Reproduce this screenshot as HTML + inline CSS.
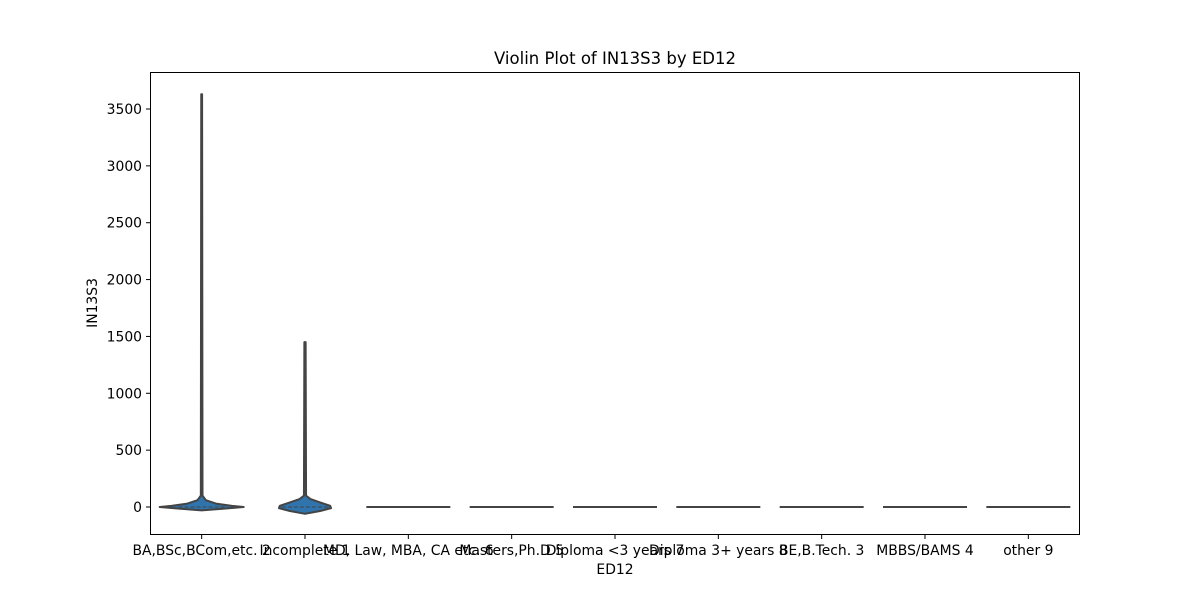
<!DOCTYPE html>
<html><head><meta charset="utf-8"><style>
body{margin:0;background:#fff;}
svg{display:block;font-family:"DejaVu Sans","Liberation Sans",sans-serif;}
</style></head><body>
<svg id="chart" width="1200" height="600">
<rect x="0" y="0" width="1200" height="600" fill="#fff"/>
<text x="615" y="64" text-anchor="middle" font-size="16.5">Violin Plot of IN13S3 by ED12</text>
<g id="plot"></g>
<rect x="150.5" y="72.5" width="929" height="462" fill="none" stroke="#000" stroke-width="1"/>
<text x="615" y="574" text-anchor="middle" font-size="13.9">ED12</text>
<text x="0" y="0" transform="translate(97,303) rotate(-90)" text-anchor="middle" font-size="13.9">IN13S3</text>
</svg>
<script>
const categories=["BA,BSc,BCom,etc. 2","Incomplete 1","MD, Law, MBA, CA etc. 6","Masters,Ph.D 5","Diploma <3 years 7","Diploma 3+ years 8","BE,B.Tech. 3","MBBS/BAMS 4","other 9"];
const yTicks=[0,500,1000,1500,2000,2500,3000,3500];
// density profiles: [value, relative half-width 0..1]
const profileBA=[[3630,0.01],[100,0.02],[60,0.1],[30,0.34],[10,0.72],[0,1],[-15,0.5],[-30,0]];
const profileIncomplete=[[1450,0.015],[100,0.025],[70,0.13],[40,0.36],[10,0.6],[-10,0.62],[-35,0.36],[-60,0]];
const profileFlat=[[0,1],[0,1]];
const profiles=[profileBA,profileIncomplete,profileFlat,profileFlat,profileFlat,profileFlat,profileFlat,profileFlat,profileFlat];
const medians=[0,0,0,0,0,0,0,0,0];

const x0=150,x1=1080,y0px=507,ppu=(507-109)/3500;
const band=(x1-x0)/categories.length, maxHW=42;
const xS=i=>x0+(i+0.5)*band;
const yS=v=>y0px-v*ppu;
const NS="http://www.w3.org/2000/svg";
const svg=document.getElementById('chart');
const g=document.getElementById('plot');
function mk(t,a,p){const e=document.createElementNS(NS,t);for(const k in a)e.setAttribute(k,a[k]);(p||g).appendChild(e);return e;}

yTicks.forEach(v=>{
  const y=yS(v);
  const tk=mk('line',{x1:146,x2:150,y1:y,y2:y,stroke:'#000'},svg);
  
  
  const t=mk('text',{x:142,y:y+5,'text-anchor':'end','font-size':13.9},svg);
  t.textContent=v;
  
  
});
categories.forEach((c,i)=>{
  const x=xS(i);
  const tk=mk('line',{x1:x,x2:x,y1:535,y2:539,stroke:'#000'},svg);
  
  
  const t=mk('text',{x:x,y:555,'text-anchor':'middle','font-size':13.9},svg);
  t.textContent=c;
  
  
  const prof=profiles[i];
  const flat=prof.every(p=>p[0]===prof[0][0]);
  if(flat){
    const l=mk('line',{x1:x-maxHW,x2:x+maxHW,y1:yS(prof[0][0]),y2:yS(prof[0][0]),stroke:'#444','stroke-width':2});
    
    
    return;
  }
  let d='';
  prof.forEach((p,j)=>{d+=(j?'L':'M')+(x+p[1]*maxHW)+','+yS(p[0]);});
  for(let j=prof.length-1;j>=0;j--){const p=prof[j];d+='L'+(x-p[1]*maxHW)+','+yS(p[0]);}
  d+='Z';
  const path=mk('path',{d:d,fill:'#2f74ad',stroke:'#444','stroke-width':2,'stroke-linejoin':'round'});
  
  
  const ml=mk('line',{x1:x-maxHW*0.55,x2:x+maxHW*0.55,y1:yS(medians[i]),y2:yS(medians[i]),stroke:'#444','stroke-width':1,'stroke-dasharray':'4,2'});
  
  
});
</script>
</body></html>
